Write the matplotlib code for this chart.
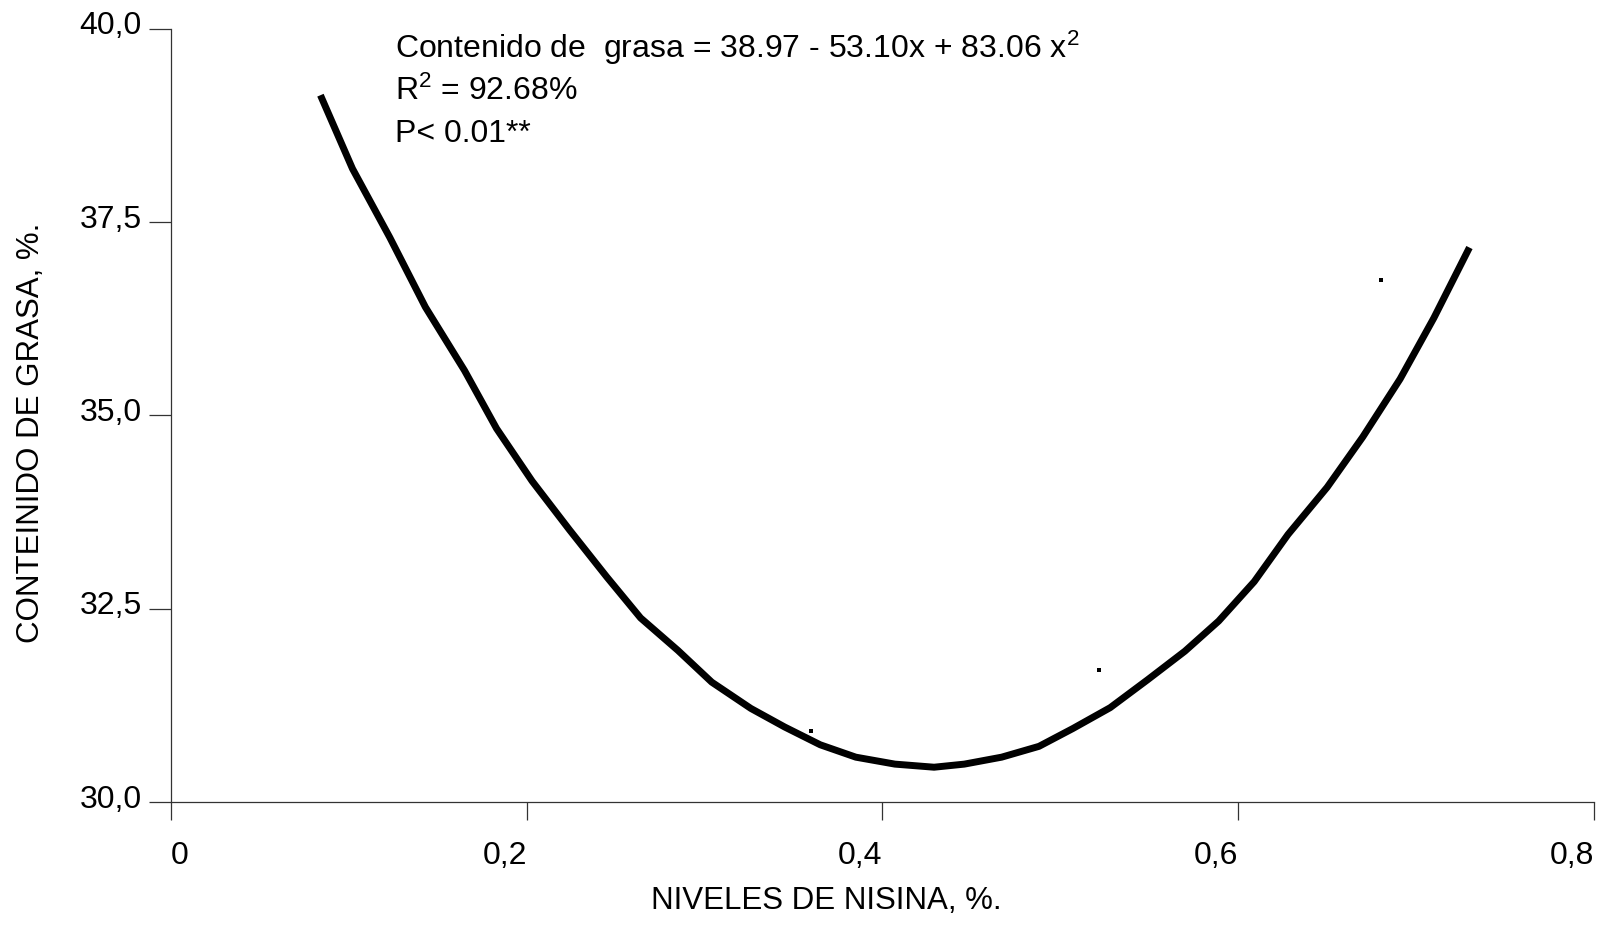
import matplotlib
matplotlib.use("Agg")
import matplotlib.pyplot as plt
import matplotlib.transforms as mtransforms

plt.rcParams['font.family'] = ['Liberation Sans', 'DejaVu Sans']
plt.rcParams['mathtext.fontset'] = 'custom'
plt.rcParams['mathtext.rm'] = 'Liberation Sans'
plt.rcParams['mathtext.it'] = 'Liberation Sans'

# curva de regresion (vertices de la polilinea)
nisina = [0.084, 0.102, 0.123, 0.143, 0.165, 0.183, 0.203, 0.224, 0.245, 0.264,
          0.285, 0.304, 0.326, 0.345, 0.365, 0.385, 0.407, 0.429, 0.446, 0.467,
          0.488, 0.507, 0.528, 0.549, 0.570, 0.589, 0.609, 0.628, 0.650, 0.670,
          0.691, 0.710, 0.730]
grasa = [39.14, 38.19, 37.30, 36.40, 35.58, 34.83, 34.15, 33.52, 32.91, 32.38,
         31.96, 31.55, 31.21, 30.97, 30.74, 30.58, 30.49, 30.45, 30.49, 30.58,
         30.72, 30.95, 31.22, 31.58, 31.95, 32.34, 32.85, 33.46, 34.07, 34.72,
         35.47, 36.26, 37.17]

# puntos observados
obs_x = [0.360, 0.522, 0.680]
obs_y = [30.92, 31.71, 36.75]

xticks = [0, 0.2, 0.4, 0.6, 0.8]
xlabels = ['0', '0,2', '0,4', '0,6', '0,8']
yticks = [30.0, 32.5, 35.0, 37.5, 40.0]
ylabels = ['30,0', '32,5', '35,0', '37,5', '40,0']

fig = plt.figure(figsize=(16.06, 9.47), dpi=100)
ax = fig.add_axes([0.1065, 0.1531, 0.886, 0.8166])

ax.plot(nisina, grasa, color='black', lw=5, solid_capstyle='butt')
ax.plot(obs_x, obs_y, 's', color='black', ms=2.3, mew=0)

ax.set_xlim(0, 0.8)
ax.set_ylim(30, 40)
for s in ['top', 'right']:
    ax.spines[s].set_visible(False)
for s in ['left', 'bottom']:
    ax.spines[s].set_linewidth(0.9)
    ax.spines[s].set_color('#333333')

ax.set_xticks(xticks)
ax.set_xticklabels(xlabels, fontsize=23)
ax.set_yticks(yticks)
ax.set_yticklabels(ylabels, fontsize=23)
ax.tick_params(axis='y', length=16, width=0.9, color='#333333', pad=5)
ax.tick_params(axis='x', length=13, width=0.9, color='#333333', pad=15)

for i, lab in enumerate(ax.get_xticklabels()):
    lab.set_ha('left' if i == 0 else 'right')
up = mtransforms.ScaledTranslation(0, 6 / 100, fig.dpi_scale_trans)
for lab in ax.get_yticklabels():
    lab.set_transform(lab.get_transform() + up)

fig.text(826 / 1606, 1 - 901 / 947, 'NIVELES DE NISINA, %.', fontsize=22.5,
         ha='center', va='center')
fig.text(31 / 1606, 1 - 433 / 947, 'CONTEINIDO DE GRASA, %.', fontsize=22.5,
         ha='center', va='center', rotation=90)

tx = 395 / 1606
fig.text(tx, 1 - 58 / 947, 'Contenido de  grasa = 38.97 - 53.10x + 83.06 x$^2$',
         fontsize=23, va='baseline')
fig.text(tx, 1 - 100 / 947, 'R$^2$ = 92.68%', fontsize=23, va='baseline')
fig.text(tx, 1 - 142 / 947, 'P< 0.01**', fontsize=23, va='baseline')

fig.savefig('out.png', dpi=100)
